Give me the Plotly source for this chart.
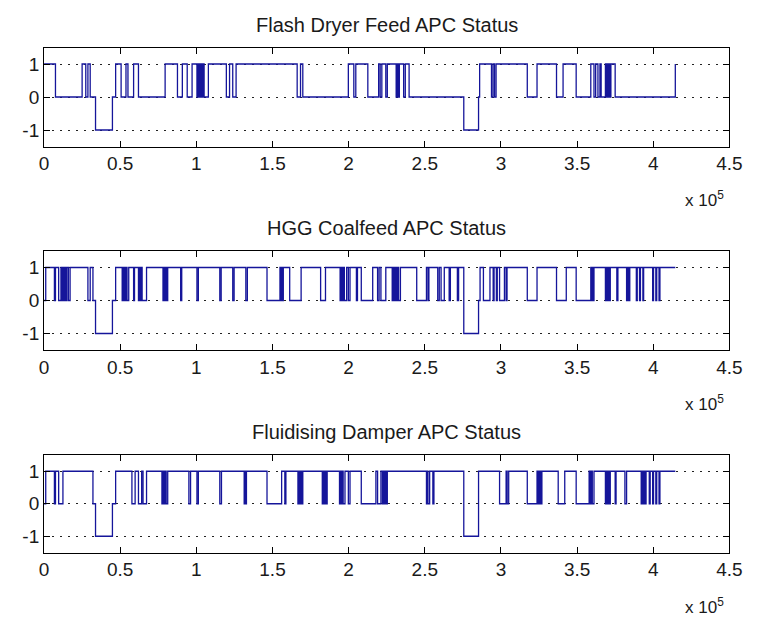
import plotly.graph_objects as go

# ---------------- data (time in units of 1e5 samples) ----------------
titles = ["Flash Dryer Feed APC Status", "HGG Coalfeed APC Status", "Fluidising Damper APC Status"]
x_tickvals = [0, 0.5, 1, 1.5, 2, 2.5, 3, 3.5, 4, 4.5]
x_ticktext = ["0", "0.5", "1", "1.5", "2", "2.5", "3", "3.5", "4", "4.5"]
y_tickvals = [-1, 0, 1]
y_ticktext = ["-1", "0", "1"]

# Flash Dryer Feed APC status: change times and new levels
t_fd = [0, 0.075, 0.250, 0.274, 0.288, 0.303, 0.338, 0.449, 0.470, 0.506, 0.538, 0.551, 0.588, 0.620,
        0.795, 0.876, 0.908, 0.940, 0.972, 1.004, 1.012, 1.020, 1.028, 1.036, 1.044, 1.051, 1.079,
        1.197, 1.218, 1.239, 1.261, 1.662, 1.684, 1.699, 1.998, 2.034, 2.047, 2.126, 2.197, 2.207,
        2.218, 2.244, 2.254, 2.312, 2.319, 2.326, 2.333, 2.361, 2.372, 2.397, 2.756, 2.853, 2.860,
        2.938, 2.948, 2.958, 2.968, 3.173, 3.237, 3.365, 3.408, 3.494, 3.590, 3.611, 3.622, 3.637,
        3.650, 3.658, 3.686, 3.692, 3.698, 3.704, 3.710, 3.716, 3.722, 3.750, 4.145]
v_fd = [1, 0, 1, 0, 1, 0, -1, 0, 1, 0, 1, 0, 1, 0,
        1, 0, 1, 0, 1, 0, 1, 0, 1, 0, 1, 0, 1,
        0, 1, 0, 1, 0, 1, 0, 1, 0, 1, 0, 1, 0,
        1, 0, 1, 0, 1, 0, 1, 0, 1, 0, -1, 0, 1,
        0, 1, 0, 1, 0, 1, 0, 1, 0, 1, 0, 1, 0,
        1, 0, 1, 0, 1, 0, 1, 0, 1, 0, 1, 1]

# HGG Coalfeed APC status
t_hg = [0, 0.011, 0.068, 0.075, 0.096, 0.111, 0.118, 0.124, 0.130, 0.136, 0.142, 0.150, 0.160, 0.171,
        0.288, 0.303, 0.321, 0.338, 0.449, 0.470, 0.513, 0.521, 0.529, 0.537, 0.545, 0.556,
        0.588, 0.594, 0.620, 0.626, 0.632, 0.638, 0.644, 0.673, 0.781, 0.787, 0.793, 0.799, 0.805, 0.812,
        0.897, 0.904, 1.004, 1.013, 1.154, 1.163, 1.239, 1.248, 1.325, 1.335,
        1.464, 1.549, 1.555, 1.560, 1.566, 1.571, 1.613, 1.688, 1.816, 1.848,
        1.944, 1.951, 1.958, 1.965, 1.972, 1.987, 1.998, 2.009, 2.051, 2.058, 2.083, 2.158,
        2.190, 2.200, 2.212, 2.244, 2.286, 2.293, 2.300, 2.307, 2.314, 2.321, 2.328, 2.340,
        2.447, 2.511, 2.521, 2.527, 2.585, 2.595, 2.607, 2.628, 2.660, 2.668, 2.714, 2.722,
        2.756, 2.853, 2.863, 2.885, 2.928, 2.949, 2.955, 2.970, 2.976, 2.991, 3.023, 3.034, 3.040,
        3.173, 3.237, 3.365, 3.429, 3.494, 3.590, 3.595, 3.600, 3.605, 3.611,
        3.686, 3.692, 3.698, 3.704, 3.710, 3.718, 3.761, 3.768, 3.825, 3.832, 3.839, 3.846,
        3.889, 3.895, 3.910, 3.916, 3.932, 3.937, 3.996, 4.002, 4.017, 4.023, 4.038, 4.044, 4.145]
v_hg = [0, 1, 0, 1, 0, 1, 0, 1, 0, 1, 0, 1, 0, 1,
        0, 1, 0, -1, 0, 1, 0, 1, 0, 1, 0, 1,
        0, 1, 0, 1, 0, 1, 0, 1, 0, 1, 0, 1, 0, 1,
        0, 1, 0, 1, 0, 1, 0, 1, 0, 1,
        0, 1, 0, 1, 0, 1, 0, 1, 0, 1,
        0, 1, 0, 1, 0, 1, 0, 1, 0, 1, 0, 1,
        0, 1, 0, 1, 0, 1, 0, 1, 0, 1, 0, 1,
        0, 1, 0, 1, 0, 1, 0, 1, 0, 1, 0, 1,
        -1, 0, 1, 0, 1, 0, 1, 0, 1, 0, 1, 0, 1,
        0, 1, 0, 1, 0, 1, 0, 1, 0, 1,
        0, 1, 0, 1, 0, 1, 0, 1, 0, 1, 0, 1,
        0, 1, 0, 1, 0, 1, 0, 1, 0, 1, 0, 1, 1]

# Fluidising Damper APC status
t_fl = [0, 0.011, 0.068, 0.075, 0.096, 0.124, 0.321, 0.338, 0.449, 0.470, 0.577, 0.598,
        0.620, 0.641, 0.650, 0.673, 0.774, 0.781, 0.788, 0.795, 0.802, 0.812,
        0.951, 0.962, 1.004, 1.013, 1.154, 1.165, 1.314, 1.319, 1.324, 1.329,
        1.464, 1.560, 1.581, 1.588, 1.667, 1.673, 1.679, 1.685, 1.691, 1.699,
        1.827, 1.833, 1.839, 1.845, 1.851, 1.859, 1.940, 1.946, 1.952, 1.958, 1.964, 1.976,
        1.998, 2.009, 2.083, 2.179, 2.190, 2.212, 2.222, 2.228, 2.234, 2.240, 2.246, 2.254,
        2.511, 2.516, 2.521, 2.532, 2.553, 2.560, 2.756, 2.853,
        2.991, 3.034, 3.041, 3.051, 3.173, 3.237, 3.245, 3.253, 3.261, 3.269, 3.376, 3.419,
        3.494, 3.579, 3.586, 3.593, 3.600, 3.611, 3.686, 3.692, 3.698, 3.704, 3.710, 3.718,
        3.750, 3.756, 3.814, 3.825, 3.921, 3.927, 3.933, 3.940, 3.946, 3.953, 3.974, 3.980,
        3.996, 4.002, 4.017, 4.023, 4.038, 4.044, 4.145]
v_fl = [0, 1, 0, 1, 0, 1, 0, -1, 0, 1, 0, 1,
        0, 1, 0, 1, 0, 1, 0, 1, 0, 1,
        0, 1, 0, 1, 0, 1, 0, 1, 0, 1,
        0, 1, 0, 1, 0, 1, 0, 1, 0, 1,
        0, 1, 0, 1, 0, 1, 0, 1, 0, 1, 0, 1,
        0, 1, 0, 1, 0, 1, 0, 1, 0, 1, 0, 1,
        0, 1, 0, 1, 0, 1, -1, 1,
        0, 1, 0, 1, 0, 1, 0, 1, 0, 1, 0, 1,
        0, 1, 0, 1, 0, 1, 0, 1, 0, 1, 0, 1,
        0, 1, 0, 1, 0, 1, 0, 1, 0, 1, 0, 1,
        0, 1, 0, 1, 0, 1, 1]

series = [(t_fd, v_fd), (t_hg, v_hg), (t_fl, v_fl)]

# ---------------- layout ----------------
W, H = 758, 621
x_dom = [40 / W, 742 / W]
# (top px, bottom px) of each axes box
boxes = [(47.5, 146.5), (251, 350), (455, 552.5)]

FONT = "Liberation Sans, Arial, sans-serif"
LINE_COLOR = "#15159a"
TEXT_COLOR = "#1a1a1a"

fig = go.Figure()
layout = dict(width=W, height=H, margin=dict(l=0, r=0, t=0, b=0),
              paper_bgcolor="white", plot_bgcolor="white", showlegend=False,
              font=dict(family=FONT, size=19, color=TEXT_COLOR))
annotations = []
for i, ((t, v), (top, bot)) in enumerate(zip(series, boxes)):
    n = "" if i == 0 else str(i + 1)
    fig.add_trace(go.Scatter(x=t, y=v, mode="lines", line=dict(color=LINE_COLOR, width=1.3, shape="hv"),
                             xaxis="x" + n, yaxis="y" + n, hoverinfo="skip"))
    ydom = [1 - bot / H, 1 - top / H]
    layout["xaxis" + n] = dict(domain=x_dom, range=[0, 4.5], anchor="y" + n,
                               tickvals=x_tickvals, ticktext=x_ticktext,
                               ticks="inside", ticklen=6, tickcolor="black", mirror="ticks",
                               showline=True, linecolor="black", linewidth=1,
                               showgrid=False, zeroline=False, fixedrange=True,
                               tickfont=dict(family=FONT, size=19, color=TEXT_COLOR))
    layout["yaxis" + n] = dict(domain=ydom, range=[-1.5, 1.5], anchor="x" + n,
                               tickvals=y_tickvals, ticktext=y_ticktext,
                               ticks="inside", ticklen=6, tickcolor="black", mirror="ticks",
                               showline=True, linecolor="black", linewidth=1,
                               showgrid=True, gridcolor="#222222", gridwidth=1, griddash="2px,6px",
                               zeroline=False, fixedrange=True,
                               tickfont=dict(family=FONT, size=19, color=TEXT_COLOR))
    annotations.append(dict(text=titles[i], xref="paper", yref="paper",
                            x=(x_dom[0] + x_dom[1]) / 2, y=ydom[1], xanchor="center", yanchor="bottom",
                            yshift=10, showarrow=False,
                            font=dict(family=FONT, size=20, color=TEXT_COLOR)))
    annotations.append(dict(text="x 10<sup>5</sup>", xref="paper", yref="paper",
                            x=694 / W, y=ydom[0], xanchor="left", yanchor="top",
                            yshift=-40, showarrow=False,
                            font=dict(family=FONT, size=17, color=TEXT_COLOR)))
layout["annotations"] = annotations
fig.update_layout(**layout)
fig.write_html("out.html")
